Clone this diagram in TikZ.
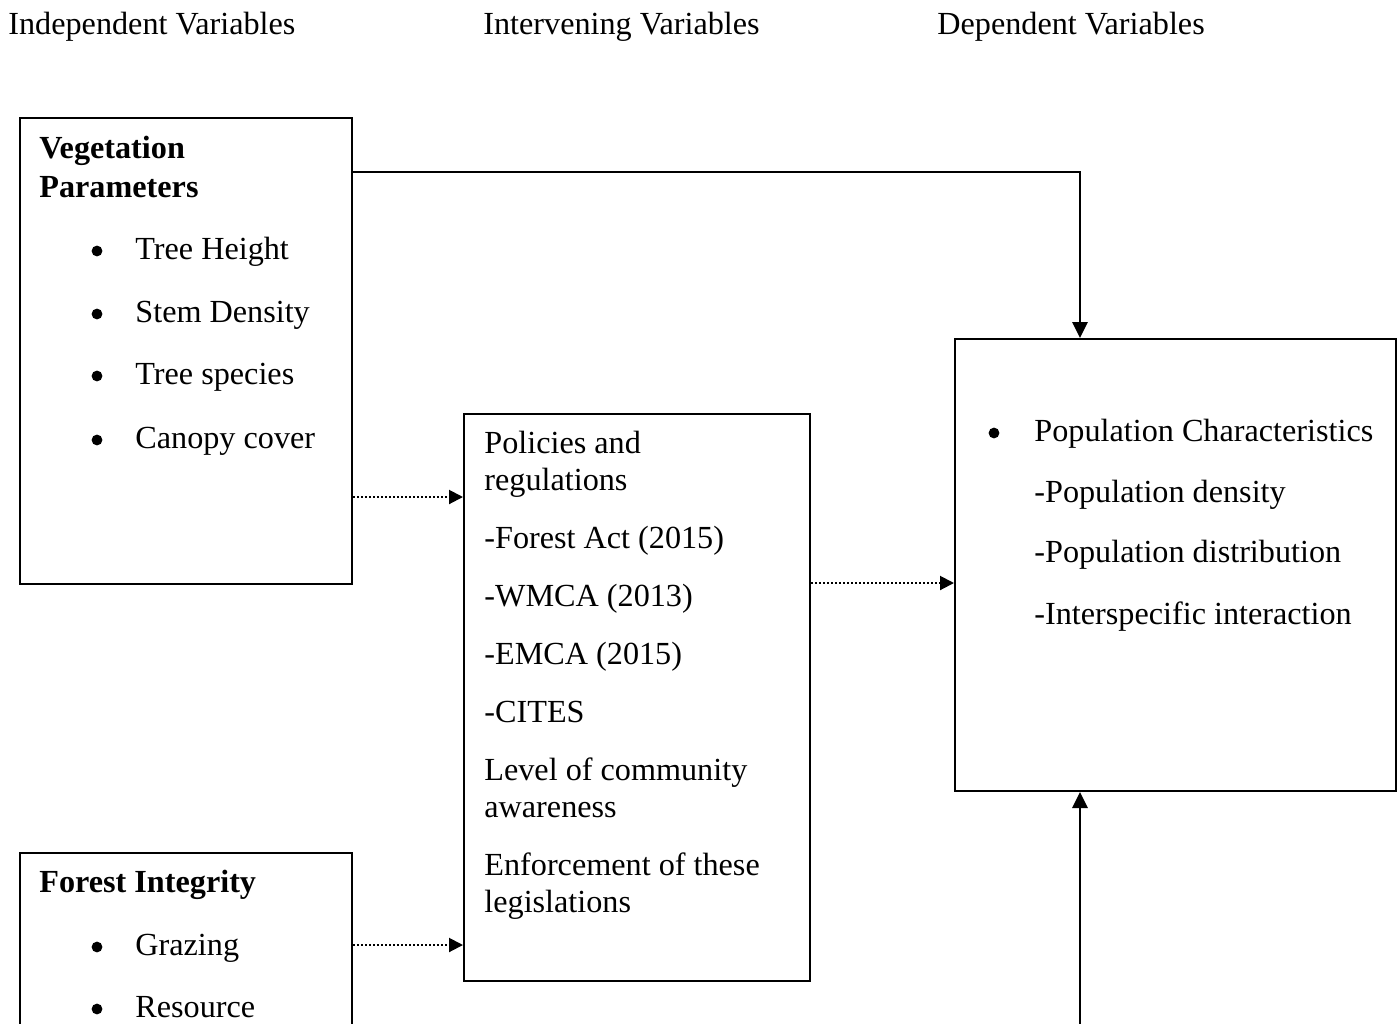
\documentclass[tikz,border=0pt]{standalone}
\usepackage{fontspec}
\setmainfont{Liberation Serif}
\usetikzlibrary{arrows.meta,calc}
\begin{document}
\begin{tikzpicture}[x=0.5pt,y=-0.5pt,
  box/.style={draw,line width=1pt,anchor=north west,inner sep=0pt},
  txt/.style={anchor=base west,inner sep=0pt,font=\fontsize{16.1pt}{19pt}\selectfont},
  btxt/.style={txt,font=\fontsize{16.1pt}{19pt}\selectfont\bfseries},
  bul/.style={circle,fill,inner sep=0pt,minimum size=5.4pt},
  solidarrow/.style={line width=1.4pt,-{Triangle[length=8pt,width=7.5pt]}},
  dotarrow/.style={line width=1pt,dash pattern=on 1pt off 1pt,-{Triangle[length=7pt,width=7pt]}}
]
\clip (0,0) rectangle (1397,1023);
% header
\node[txt] (h1) at (8,34) {Independent Variables};
\node[txt] (h2) at (483,34) {Intervening Variables};
\node[txt] (h3) at (937,34) {Dependent Variables};
% boxes
\node[box,minimum width=166pt,minimum height=233pt] (veg) at (19,117) {};
\node[box,minimum width=173pt,minimum height=283.5pt] (pol) at (463,413) {};
\node[box,minimum width=220.5pt,minimum height=226pt] (pop) at (954,338) {};
\node[box,minimum width=166pt,minimum height=150pt] (forest) at (19,852) {};
% vegetation text
\node[btxt] (v1) at (39,158) {Vegetation};
\node[btxt] (v2) at (39,197) {Parameters};
\node[bul] (vb1) at (97,251) {};
\node[txt] (v3) at (135,259) {Tree Height};
\node[bul] (vb2) at (97,314) {};
\node[txt] (v4) at (135,322) {Stem Density};
\node[bul] (vb3) at (97,376) {};
\node[txt] (v5) at (135,384) {Tree species};
\node[bul] (vb4) at (97,440) {};
\node[txt] (v6) at (135,448) {Canopy cover};
% policies text
\node[txt] (p1) at (484,453) {Policies and};
\node[txt] (p2) at (484,490) {regulations};
\node[txt] (p3) at (484,548) {-Forest Act (2015)};
\node[txt] (p4) at (484,606) {-WMCA (2013)};
\node[txt] (p5) at (484,664) {-EMCA (2015)};
\node[txt] (p6) at (484,722) {-CITES};
\node[txt] (p7) at (484,780) {Level of community};
\node[txt] (p8) at (484,817) {awareness};
\node[txt] (p9) at (484,875) {Enforcement of these};
\node[txt] (p10) at (484,912) {legislations};
% population text
\node[bul] (qb) at (994,433) {};
\node[txt] (q1) at (1034,441) {Population Characteristics};
\node[txt] (q2) at (1034,502) {-Population density};
\node[txt] (q3) at (1034,562) {-Population distribution};
\node[txt] (q4) at (1034,624) {-Interspecific interaction};
% forest text
\node[btxt] (f1) at (39,892) {Forest Integrity};
\node[bul] (fb1) at (97,947) {};
\node[txt] (f2) at (135,955) {Grazing};
\node[bul] (fb2) at (97,1009) {};
\node[txt] (f3) at (135,1017) {Resource};
% connectors
\coordinate (c1) at (0,172);
\coordinate (c2) at (1080,0);
\draw[solidarrow] (c1 -| veg.east) -| (c2 |- pop.north);
\coordinate (d1) at (0,497);
\draw[dotarrow] (d1 -| veg.east) -- (d1 -| pol.west);
\coordinate (d2) at (0,583);
\draw[dotarrow] (d2 -| pol.east) -- (d2 -| pop.west);
\coordinate (d3) at (0,945);
\draw[dotarrow] (d3 -| forest.east) -- (d3 -| pol.west);
\coordinate (bot) at (1080,1040);
\draw[solidarrow] (bot) -- (bot |- pop.south);
\end{tikzpicture}
\end{document}
